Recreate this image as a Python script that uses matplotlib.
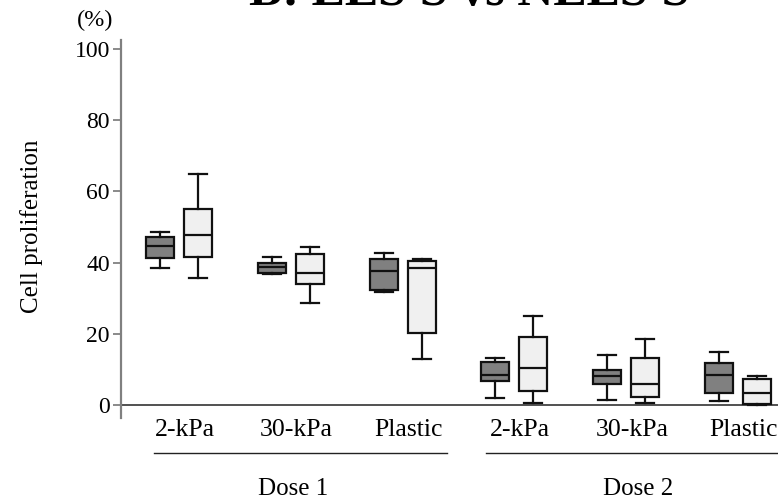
import matplotlib
matplotlib.use("Agg")
import matplotlib.pyplot as plt
from matplotlib.transforms import blended_transform_factory

plt.rcParams['font.family'] = ['Liberation Serif', 'DejaVu Serif']

categories = ["2-kPa", "30-kPa", "Plastic", "2-kPa", "30-kPa", "Plastic"]
doses = ["Dose 1", "Dose 2"]
yticks = [0, 20, 40, 60, 80, 100]

# box stats: (whislo, q1, med, q3, whishi)
ees = [
    (38.6, 41.3, 44.8, 47.2, 48.5),
    (36.8, 37.1, 38.8, 40.0, 41.6),
    (31.6, 32.3, 37.6, 41.0, 42.7),
    (2.0, 6.6, 8.5, 12.1, 13.3),
    (1.5, 5.9, 8.2, 9.9, 13.9),
    (1.2, 3.3, 8.5, 11.9, 14.8),
]
nees = [
    (35.7, 41.6, 47.8, 55.0, 64.9),
    (28.6, 34.1, 37.0, 42.4, 44.3),
    (13.0, 20.2, 38.4, 40.4, 41.1),
    (0.4, 3.9, 10.4, 19.1, 25.1),
    (0.4, 2.2, 5.8, 13.1, 18.6),
    (0.0, 0.3, 3.2, 7.3, 8.2),
]

fig = plt.figure(figsize=(7.78, 5.03), dpi=100)
ax = fig.add_axes([121/778, 1-418/503, 1-121/778, (418-40)/503])

def stats(vals):
    return [dict(whislo=a, q1=b, med=c, q3=d, whishi=e, fliers=[]) for a, b, c, d, e in vals]

pos = list(range(1, 7))
off = 0.17
w = 0.25
common = dict(widths=w, patch_artist=True, showfliers=False,
              capwidths=w*18/28,
              whiskerprops=dict(color='#111111', lw=1.6),
              capprops=dict(color='#111111', lw=1.6),
              medianprops=dict(color='#111111', lw=1.6))
b1 = ax.bxp(stats(ees), positions=[p-off for p in pos],
            boxprops=dict(facecolor='#808080', edgecolor='#111111', lw=1.6), **common)
b2 = ax.bxp(stats(nees), positions=[p+off for p in pos],
            boxprops=dict(facecolor='#f0f0f0', edgecolor='#111111', lw=1.6), **common)

ax.set_xlim(0.482, 6.357)
ax.set_ylim(-3.7, 102.6)
ax.set_yticks(yticks)
ax.set_yticklabels([str(t) for t in yticks], fontsize=17)
ax.tick_params(axis='y', direction='out', length=6, width=1.2, color='#777777', pad=2)
ax.set_xticks([])
for s in ['top', 'right', 'bottom']:
    ax.spines[s].set_visible(False)
ax.spines['left'].set_color('#808080')
ax.spines['left'].set_linewidth(1.6)
ax.axhline(0, color='#333333', lw=1.2, zorder=0)

tr = blended_transform_factory(ax.transData, fig.transFigure)
for p, c in zip(pos, categories):
    ax.text(p + 0.05, 1 - 436/503, c, transform=tr, ha='center', va='baseline', fontsize=18.5)

ax.plot([0.777, 3.40], [1-453/503]*2, transform=tr, color='#222222', lw=1.0, clip_on=False)
ax.plot([3.75, 6.5], [1-453/503]*2, transform=tr, color='#222222', lw=1.0, clip_on=False)
ax.text(2.025, 1-495/503, doses[0], transform=tr, ha='center', va='baseline', fontsize=18)
ax.text(5.105, 1-495/503, doses[1], transform=tr, ha='center', va='baseline', fontsize=18)

fig.text(32/778, 1-226/503, "Cell proliferation", rotation=90, ha='center', va='center', fontsize=18)
fig.text(95/778, 1-20/503, "(%)", ha='center', va='center', fontsize=17.5)
fig.text(469/778, 1-5/503, "B: EES'S vs NEES'S", ha='center', va='baseline',
         fontsize=36, fontweight='bold')

fig.savefig("out.png", dpi=100)
